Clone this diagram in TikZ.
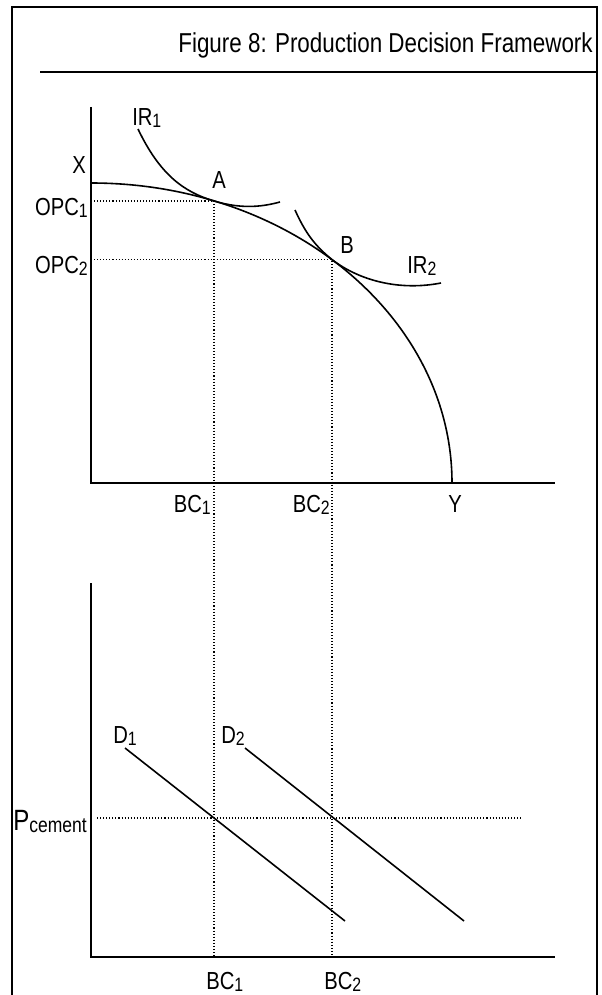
\documentclass[tikz,border=0pt]{standalone}
\usepackage{fontspec}
\setmainfont{Liberation Sans}[FakeStretch=0.82]
\newcommand{\lowsub}[1]{\raisebox{-1.5pt}{\fontsize{14.5}{14.5}\selectfont #1}}

\begin{document}
\begin{tikzpicture}[x=0.75pt,y=-0.75pt,
  frame/.style={line width=1.1pt},
  axis/.style={line width=1.5pt},
  curve/.style={line width=1.2pt},
  guide/.style={line width=0.8pt,dash pattern=on 0.8pt off 1.5pt},
  lbl/.style={inner sep=0pt,font=\fontsize{18.5}{18.5}\selectfont}]
\useasboundingbox (0,0) rectangle (602,995);
% frame and title
\draw[frame] (12,995) -- (12,7) -- (597,7) -- (597,995);
\draw[frame] (40,72) -- (597,72);
\node[lbl,anchor=base east,font=\fontsize{20.5}{20.5}\selectfont] (title) at (593,53) {Figure 8: Production Decision Framework};
% upper panel
\coordinate (ptA) at (214,201);
\coordinate (ptB) at (332,259.6);
\draw[guide] (91,201) -- (ptA) -- (214,957);
\draw[guide] (91,259.6) -- (ptB) -- (332,957);
\draw[axis] (91,107) -- (91,483) -- (555,483);
\draw[curve] (91,183) .. controls (290.4,183) and (452,317.3) .. (452,483);
\draw[curve] (138,129) .. controls (160,175) and (184,192) .. (ptA) .. controls (244,210) and (265,206) .. (280,202);
\draw[curve] (295,210) .. controls (305,232) and (314,245) .. (ptB) .. controls (360,281) and (400,291) .. (441,283);
\node[lbl,anchor=base] (X) at (79,174) {X};
\node[lbl,anchor=base east] (opc1) at (88,215) {OPC\lowsub{1}};
\node[lbl,anchor=base east] (opc2) at (88,273) {OPC\lowsub{2}};
\node[lbl,anchor=base west] (ir1) at (132,126) {IR\lowsub{1}};
\node[lbl,anchor=base] (A) at (219,189) {A};
\node[lbl,anchor=base] (B) at (347,253) {B};
\node[lbl,anchor=base west] (ir2) at (407,273) {IR\lowsub{2}};
\node[lbl,anchor=base east] (bc1u) at (211,512) {BC\lowsub{1}};
\node[lbl,anchor=base east] (bc2u) at (330,512) {BC\lowsub{2}};
\node[lbl,anchor=base] (Y) at (455,512) {Y};
% lower panel
\draw[axis] (91,583) -- (91,957) -- (555,957);
\draw[guide] (97,818) -- (522,818);
\draw[curve] (125,748) -- (345,921);
\draw[curve] (245,748) -- (464,921);
\node[lbl,anchor=base west] (D1) at (113,743) {D\lowsub{1}};
\node[lbl,anchor=base west] (D2) at (221,743) {D\lowsub{2}};
\node[inner sep=0pt,anchor=base west,font=\fontsize{22}{22}\selectfont] (pc) at (13,830) {P\raisebox{-2pt}{\fontsize{16}{16}\selectfont cement}};
\node[lbl,anchor=base west] (bc1l) at (206,989) {BC\lowsub{1}};
\node[lbl,anchor=base west] (bc2l) at (324,989) {BC\lowsub{2}};
\end{tikzpicture}
\end{document}
